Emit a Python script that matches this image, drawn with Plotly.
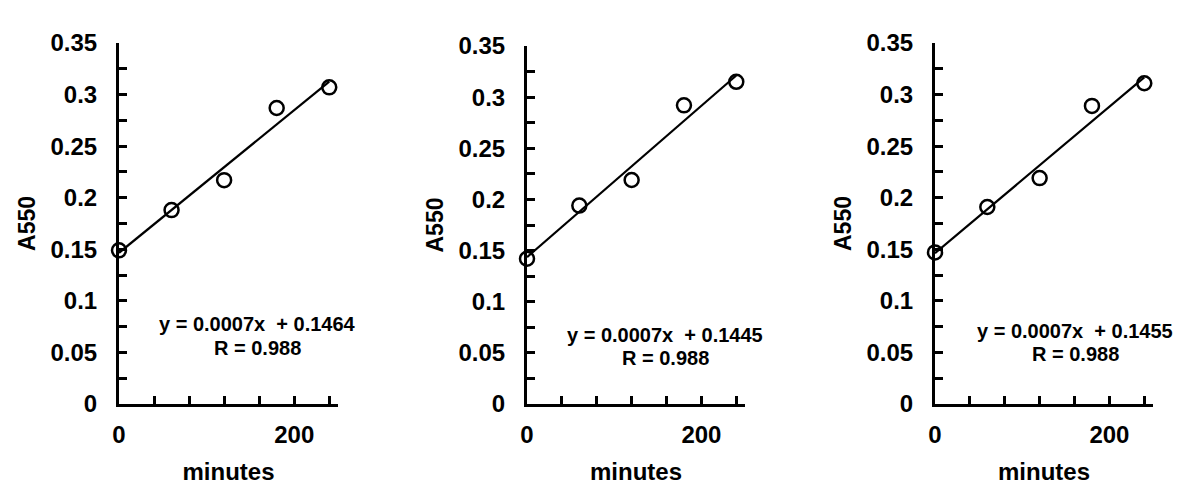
import numpy as np
import plotly.graph_objects as go

# ---- data ----
minutes = [0, 60, 120, 180, 240]
a550_panel1 = [0.149, 0.188, 0.217, 0.287, 0.307]
a550_panel2 = [0.142, 0.194, 0.219, 0.292, 0.315]
a550_panel3 = [0.147, 0.191, 0.219, 0.289, 0.311]
eq_labels = ["y = 0.0007x  + 0.1464", "y = 0.0007x  + 0.1445", "y = 0.0007x  + 0.1455"]
r_labels = ["R = 0.988", "R = 0.988", "R = 0.988"]
x_tickvals = [0, 40, 80, 120, 160, 200, 240]
x_ticktext = ["0", "", "", "", "", "200", ""]
y_tickvals = [0, 0.025, 0.05, 0.075, 0.1, 0.125, 0.15, 0.175, 0.2, 0.225, 0.25, 0.275, 0.3, 0.325, 0.35]
y_ticktext = ["0", "", "0.05", "", "0.1", "", "0.15", "", "0.2", "", "0.25", "", "0.3", "", "0.35"]

series = [a550_panel1, a550_panel2, a550_panel3]

FONT = "Liberation Sans, Arial, sans-serif"
OX, OY = 8, 8  # page body margin
W, H = 1200, 499

def px(xp):
    return (xp - OX) / W

def py(yp):
    return 1 - (yp - OY) / H

x_domains = [[px(119), px(338)], [px(527), px(745)], [px(935), px(1153)]]
y_domains = [[py(404), py(43)], [py(404), py(46)], [py(404), py(43)]]
eq_pos = [(257, 324, 348), (665, 335, 358), (1075, 331, 354)]

fig = go.Figure()
layout = dict(
    width=W, height=H,
    margin=dict(l=0, r=0, t=0, b=0),
    paper_bgcolor="white", plot_bgcolor="white",
    showlegend=False,
)
annotations = []
for i, ys in enumerate(series):
    sfx = "" if i == 0 else str(i + 1)
    xa, ya = "x" + sfx, "y" + sfx
    slope, icpt = np.polyfit(minutes, ys, 1)
    fx = [minutes[0], minutes[-1]]
    fy = [icpt + slope * v for v in fx]
    fig.add_trace(go.Scatter(x=fx, y=fy, mode="lines", line=dict(color="black", width=2.2),
                             xaxis=xa, yaxis=ya, hoverinfo="skip"))
    fig.add_trace(go.Scatter(x=minutes, y=ys, mode="markers",
                             marker=dict(symbol="circle-open", size=14, color="black",
                                         line=dict(width=2.5, color="black")),
                             xaxis=xa, yaxis=ya, cliponaxis=False))
    layout["xaxis" + sfx] = dict(
        domain=x_domains[i], range=[0, 250], anchor=ya,
        showgrid=False, zeroline=False, showline=True, linecolor="black", linewidth=3,
        ticks="inside", ticklen=8, tickwidth=2.5, tickcolor="black",
        tickmode="array", tickvals=x_tickvals, ticktext=x_ticktext,
        tickfont=dict(family=FONT, size=24, color="black", weight="bold"),
        ticklabelstandoff=7,
        title=dict(text="minutes", font=dict(family=FONT, size=24, color="black", weight="bold"),
                   standoff=17),
        automargin=False,
    )
    layout["yaxis" + sfx] = dict(
        domain=y_domains[i], range=[0, 0.35], anchor=xa,
        showgrid=False, zeroline=False, showline=True, linecolor="black", linewidth=3,
        ticks="inside", ticklen=8, tickwidth=2.5, tickcolor="black",
        tickmode="array", tickvals=y_tickvals, ticktext=y_ticktext,
        tickfont=dict(family=FONT, size=24, color="black", weight="bold"),
        ticklabelstandoff=14,
        title=dict(text="A550", font=dict(family=FONT, size=23, color="black", weight="bold"),
                   standoff=9),
        automargin=False,
    )
    cx, y1, y2 = eq_pos[i]
    annotations.append(dict(text=eq_labels[i], xref="paper", yref="paper",
                            x=px(cx), y=py(y1), xanchor="center", yanchor="middle",
                            showarrow=False, font=dict(family=FONT, size=20, color="black", weight="bold")))
    annotations.append(dict(text=r_labels[i], xref="paper", yref="paper",
                            x=px(cx), y=py(y2), xanchor="center", yanchor="middle",
                            showarrow=False, font=dict(family=FONT, size=20, color="black", weight="bold")))
layout["annotations"] = annotations
fig.update_layout(**layout)
fig.write_html("out.html")
